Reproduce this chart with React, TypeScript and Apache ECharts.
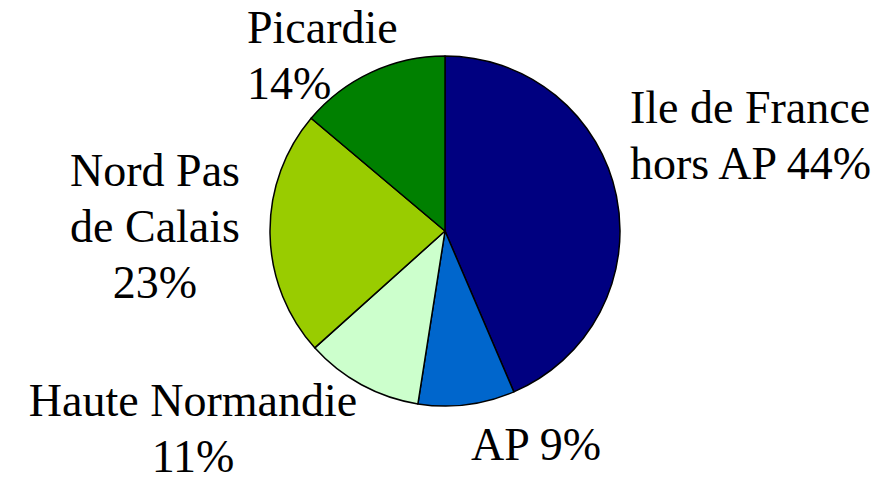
import React, { useEffect, useRef } from "react";
import * as echarts from "echarts";

const regions = ["Ile de France\nhors AP", "AP", "Haute Normandie", "Nord Pas\nde Calais", "Picardie"];
const shares = [44, 9, 11, 23, 14];
const colors = ["#000080", "#0066CC", "#CCFFCC", "#99CC00", "#008000"];
// separator between region name and percentage in each label
const separators = [" ", " ", "\n", "\n", "\n"];

// label anchor positions (block middle), purely layout
const labelPos = [
  { x: 630, y: 135, align: "left" },
  { x: 536, y: 444, align: "center" },
  { x: 193, y: 428, align: "center" },
  { x: 155, y: 226, align: "center" },
  { x: 247, y: 55, align: "left" },
];

export default function App() {
  const ref = useRef<HTMLDivElement>(null);
  useEffect(() => {
    if (!ref.current) return;
    const chart = echarts.init(ref.current, null, { renderer: "svg" });
    chart.setOption({
      animation: false,
      backgroundColor: "#ffffff",
      series: [
        {
          type: "pie",
          center: [445, 231],
          radius: 175,
          startAngle: 90,
          clockwise: true,
          avoidLabelOverlap: false,
          data: regions.map((name, i) => ({
            name,
            value: shares[i],
            itemStyle: { color: colors[i] },
          })),
          itemStyle: { borderColor: "#000000", borderWidth: 1.5 },
          label: {
            show: true,
            position: "outside",
            color: "#000000",
            fontFamily: "Liberation Serif",
            fontSize: 46,
            lineHeight: 56,
            formatter: (p: any) => `${p.name}${separators[p.dataIndex]}${p.value}%`,
          },
          labelLine: { show: false },
          labelLayout: (params: any) => {
            const pos = labelPos[params.dataIndex];
            return {
              x: pos.x,
              y: pos.y,
              align: pos.align,
              verticalAlign: "middle",
            };
          },
          emphasis: { disabled: true },
        },
      ],
    });
    return () => chart.dispose();
  }, []);
  return (
    <div
      ref={ref}
      style={{ position: "fixed", left: 0, top: 0, width: 894, height: 480 }}
    />
  );
}
